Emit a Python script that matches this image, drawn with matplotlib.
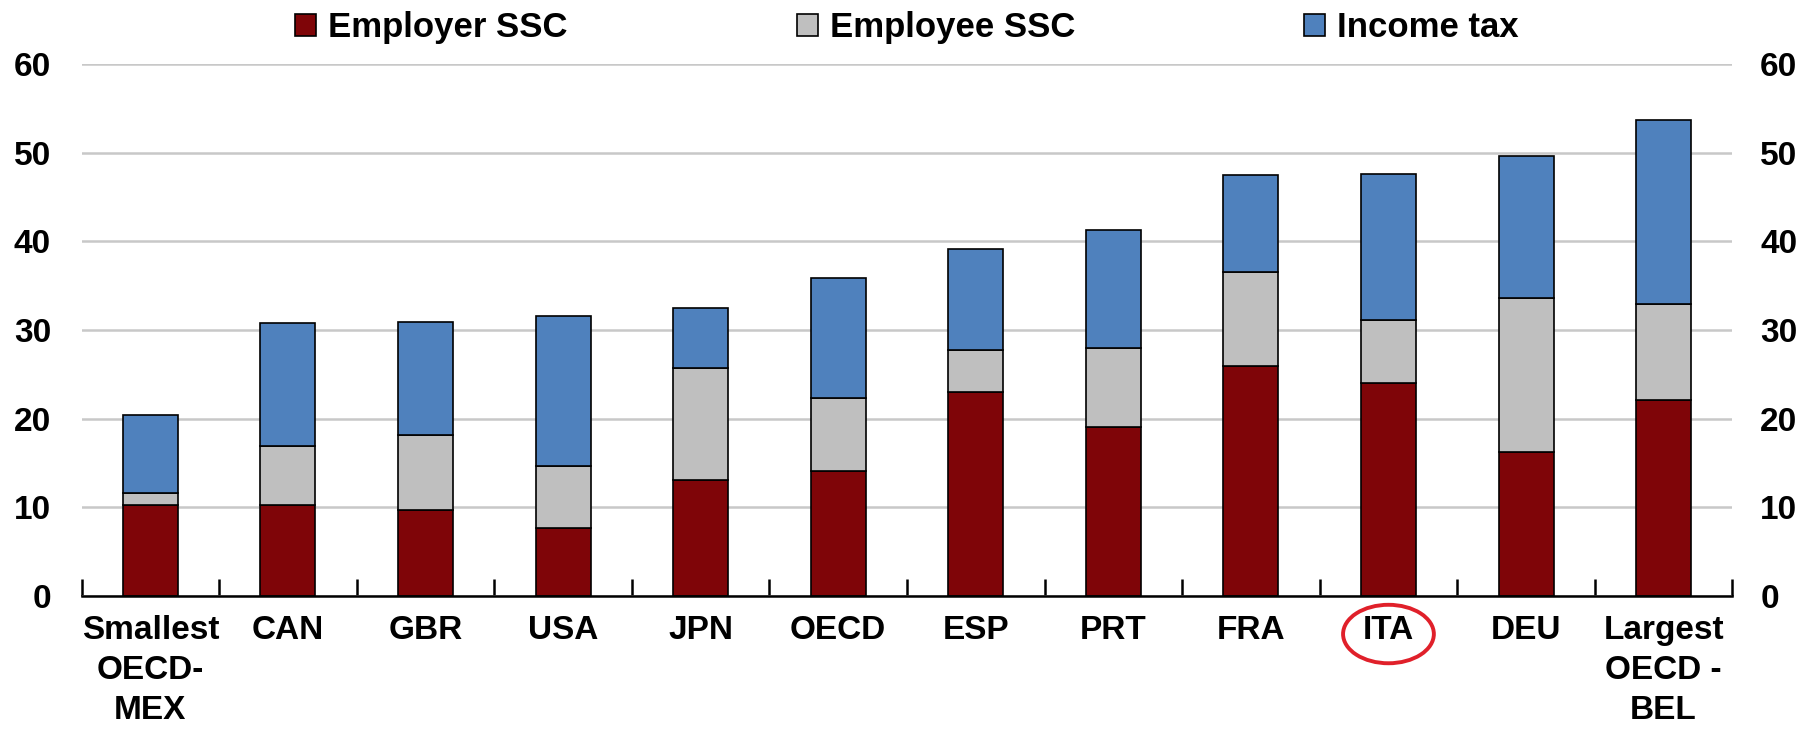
import matplotlib
matplotlib.use("Agg")
import matplotlib.pyplot as plt
import matplotlib.transforms as mtransforms
from matplotlib.patches import Ellipse
import numpy as np

plt.rcParams['font.family'] = ['Liberation Sans Narrow', 'Liberation Sans', 'DejaVu Sans']
plt.rcParams['font.weight'] = 'bold'

# ---------- data ----------
categories = ["Smallest\nOECD-\nMEX", "CAN", "GBR", "USA", "JPN", "OECD",
              "ESP", "PRT", "FRA", "ITA", "DEU", "Largest\nOECD -\nBEL"]
employer_ssc = [10.3, 10.3, 9.7, 7.6, 13.1, 14.1, 23.0, 19.1, 25.9, 24.0, 16.2, 22.1]
employee_ssc = [1.3, 6.6, 8.5, 7.1, 12.6, 8.2, 4.8, 8.9, 10.6, 7.1, 17.4, 10.8]
income_tax = [8.8, 13.9, 12.7, 16.9, 6.8, 13.6, 11.4, 13.3, 11.0, 16.5, 16.0, 20.8]
highlight = "ITA"
yticks = [0, 10, 20, 30, 40, 50, 60]

col_employer = "#7f0508"
col_employee = "#bfbfbf"
col_income = "#4f81bd"

x = np.arange(len(categories))
emp = np.array(employer_ssc)
ee = np.array(employee_ssc)
tax = np.array(income_tax)

fs = 24

fig = plt.figure(figsize=(18.14, 7.31), dpi=100)
ax = fig.add_axes([0.045, 0.185, 0.91, 0.727])

w = 0.4
ax.bar(x, emp, w, color=col_employer, edgecolor="black", linewidth=1.2,
       label="Employer SSC", zorder=3)
ax.bar(x, ee, w, bottom=emp, color=col_employee, edgecolor="black",
       linewidth=1.2, label="Employee SSC", zorder=3)
ax.bar(x, tax, w, bottom=emp + ee, color=col_income, edgecolor="black",
       linewidth=1.2, label="Income tax", zorder=3)

ax.set_xlim(-0.5, len(categories) - 0.5)
ax.set_ylim(0, 60)
ax.set_yticks(yticks)
ax.yaxis.grid(True, color="#c8c8c8", linewidth=1.8, zorder=0)
ax.set_axisbelow(True)

for s in ["top", "left", "right"]:
    ax.spines[s].set_visible(False)
ax.spines["bottom"].set_linewidth(1.8)
ax.spines["bottom"].set_zorder(4)

# category labels at centers, tick marks between categories
ax.set_xticks(x)
ax.set_xticklabels(categories, fontsize=fs, fontweight="bold", linespacing=1.38)
ax.tick_params(axis="x", which="major", length=0, pad=14)
ax.set_xticks(np.arange(-0.5, len(categories), 1.0), minor=True)
ax.tick_params(axis="x", which="minor", direction="in", length=12, width=1.8)

ax.tick_params(axis="y", length=0, labelsize=fs, pad=22)
for lab in ax.get_yticklabels():
    lab.set_fontweight("bold")

ax2 = ax.twinx()
ax2.set_ylim(ax.get_ylim())
ax2.set_yticks(yticks)
ax2.tick_params(axis="y", length=0, labelsize=fs, pad=20)
for lab in ax2.get_yticklabels():
    lab.set_fontweight("bold")
for s in ax2.spines.values():
    s.set_visible(False)

# legend on top
leg = ax.legend(loc="lower center", bbox_to_anchor=(0.5, 1.012), ncol=3,
                frameon=False, fontsize=fs + 1, handlelength=0.6, handleheight=0.6,
                handletextpad=0.35, columnspacing=6.6, borderaxespad=0)
for t in leg.get_texts():
    t.set_fontweight("bold")

# red circle around highlighted label
trans = mtransforms.blended_transform_factory(ax.transData, ax.transAxes)
idx = categories.index(highlight)
ell = Ellipse((idx, -0.072), width=0.66, height=0.11, transform=trans,
              fill=False, edgecolor="#e0202a", linewidth=2.8, clip_on=False)
ax.add_patch(ell)

fig.savefig("out.png", dpi=100)
